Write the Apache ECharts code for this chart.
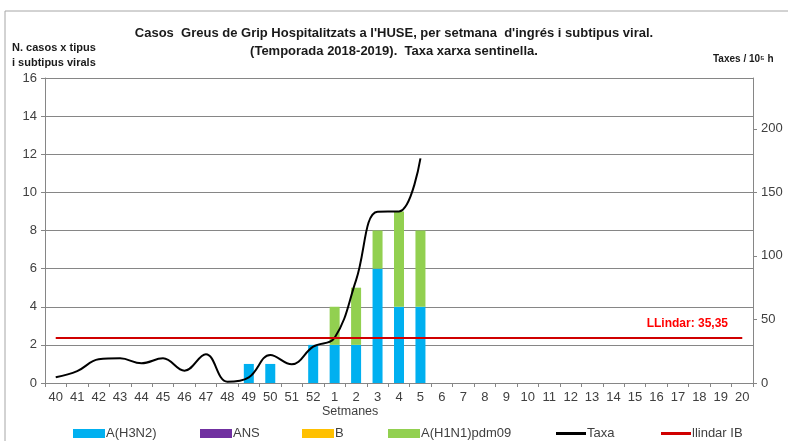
<!DOCTYPE html>
<html>
<head>
<meta charset="utf-8">
<script src="https://cdn.jsdelivr.net/npm/echarts@6/dist/echarts.min.js"></script>
<style>
  html, body { margin: 0; padding: 0; background: #fff; }
  #chart { width: 788px; height: 441px; }
</style>
</head>
<body>
<div id="chart"></div>
<script>
// setmanes de la temporada 2018-2019
var weeks = ['40', '41', '42', '43', '44', '45', '46', '47', '48', '49', '50', '51', '52',
  '1', '2', '3', '4', '5', '6', '7', '8', '9', '10', '11', '12', '13', '14', '15', '16', '17', '18', '19', '20'];

// casos per subtipus (setmanes 40 -> 5)
var h3n2 = [0, 0, 0, 0, 0, 0, 0, 0, 0, 1, 1, 0, 2, 2, 2, 6, 4, 4];
var ans = [0, 0, 0, 0, 0, 0, 0, 0, 0, 0, 0, 0, 0, 0, 0, 0, 0, 0];
var typeB = [0, 0, 0, 0, 0, 0, 0, 0, 0, 0, 0, 0, 0, 0, 0, 0, 0, 0];
var h1n1 = [0, 0, 0, 0, 0, 0, 0, 0, 0, 0, 0, 0, 0, 2, 3, 2, 5, 4];

// taxa xarxa sentinella
var taxa = [4.5, 9.4, 18.6, 19.4, 15.5, 19.4, 9.7, 22.6, 1, 4.5, 22, 14.7, 28.6, 35.6, 81, 134.8, 135, 176.8];
var llindar = 35.35;

var leftTicks = [0, 2, 4, 6, 8, 10, 12, 14, 16];
var rightTicks = [0, 50, 100, 150, 200];

(function() {
    var myChart = echarts.init(document.getElementById('chart'));

    var font = 'Liberation Sans, Arial, sans-serif';
    var llindarLine = weeks.map(function() { return llindar; });
    var labelIdx = 30;

    function legendAt(name, left, isLine) {
        return {
            data: [name],
            left: left,
            top: 422,
            icon: 'rect',
            itemWidth: isLine ? 30 : 32,
            itemHeight: isLine ? 3 : 9,
            itemGap: 0,
            textStyle: { fontFamily: font, fontSize: 13, color: '#404040', padding: [0, 0, 0, -4] },
            selectedMode: false
        };
    }

    var option = {
        animation: false,
        backgroundColor: '#fff',
        grid: { left: 45, right: 35, top: 78, bottom: 58 },
        legend: [
            legendAt('A(H3N2)', 68),
            legendAt('ANS', 195),
            legendAt('B', 297),
            legendAt('A(H1N1)pdm09', 383),
            legendAt('Taxa', 551, true),
            legendAt('llindar IB', 656, true)
        ],
        graphic: [
            { type: 'rect', shape: { x: 5, y: 11, width: 900, height: 500 }, style: { fill: 'none', stroke: '#a6a6a6', lineWidth: 1 }, silent: true },
            { type: 'text', left: 'center', top: 24, style: {
                text: "Casos  Greus de Grip Hospitalitzats a l'HUSE, per setmana  d'ingrés i subtipus viral.\n(Temporada 2018-2019).  Taxa xarxa sentinella.",
                font: 'bold 13px ' + font, fill: '#1a1a1a', textAlign: 'center', lineHeight: 18 }, x: 425 },
            { type: 'text', x: 12, y: 40, style: {
                text: 'N. casos x tipus\ni subtipus virals', font: 'bold 11px ' + font, fill: '#1a1a1a', lineHeight: 15 } },
            { type: 'text', x: 713, y: 54, style: {
                text: 'Taxes / 10\u2075 h', font: 'bold 10px ' + font, fill: '#1a1a1a' } },
            { type: 'text', x: 322, y: 405, style: {
                text: 'Setmanes', font: '12.5px ' + font, fill: '#404040' } }
        ],
        xAxis: {
            type: 'category',
            data: weeks,
            axisLine: { lineStyle: { color: '#868686' } },
            axisTick: { show: true, length: 4, lineStyle: { color: '#868686' } },
            axisLabel: { fontFamily: font, fontSize: 13, color: '#404040', margin: 8, interval: 0 }
        },
        yAxis: [
            {
                type: 'value',
                min: 0, max: 16, interval: 2,
                axisLine: { show: true, lineStyle: { color: '#868686' } },
                axisTick: { show: true, length: 4, lineStyle: { color: '#868686' } },
                splitLine: { lineStyle: { color: '#868686' } },
                axisLabel: { fontFamily: font, fontSize: 13, color: '#404040', margin: 8 }
            },
            {
                type: 'value',
                min: 0, max: 240, interval: 50,
                axisLine: { show: true, lineStyle: { color: '#868686' } },
                axisTick: { show: true, length: 4, lineStyle: { color: '#868686' } },
                splitLine: { show: false },
                axisLabel: {
                    fontFamily: font, fontSize: 13, color: '#404040', margin: 8,
                    showMaxLabel: false,
                    formatter: function(v) { return rightTicks.indexOf(v) >= 0 ? v : ''; }
                }
            }
        ],
        series: [
            { name: 'A(H3N2)', type: 'bar', stack: 'casos', data: h3n2, barWidth: 10, itemStyle: { color: '#00b0f0' } },
            { name: 'ANS', type: 'bar', stack: 'casos', data: ans, barWidth: 10, itemStyle: { color: '#7030a0' } },
            { name: 'B', type: 'bar', stack: 'casos', data: typeB, barWidth: 10, itemStyle: { color: '#ffc000' } },
            { name: 'A(H1N1)pdm09', type: 'bar', stack: 'casos', data: h1n1, barWidth: 10, itemStyle: { color: '#92d050' } },
            {
                name: 'Taxa', type: 'line', yAxisIndex: 1, data: taxa, smooth: 0.4,
                showSymbol: false, itemStyle: { color: '#000' }, lineStyle: { color: '#000', width: 2 }
            },
            {
                name: 'llindar IB', type: 'line', yAxisIndex: 1, showSymbol: false,
                itemStyle: { color: '#d00000' }, lineStyle: { color: '#d00000', width: 2 },
                data: llindarLine,
                markPoint: {
                    symbol: 'circle', symbolSize: 0,
                    data: [{ coord: [labelIdx, llindar] }],
                    label: {
                        show: true, position: 'top', offset: [-12, -3],
                        formatter: 'LLindar: 35,35',
                        fontFamily: font, fontWeight: 'bold', fontSize: 12, color: '#ff0000'
                    }
                }
            }
        ]
    };

    myChart.setOption(option);
})();
</script>
</body>
</html>
